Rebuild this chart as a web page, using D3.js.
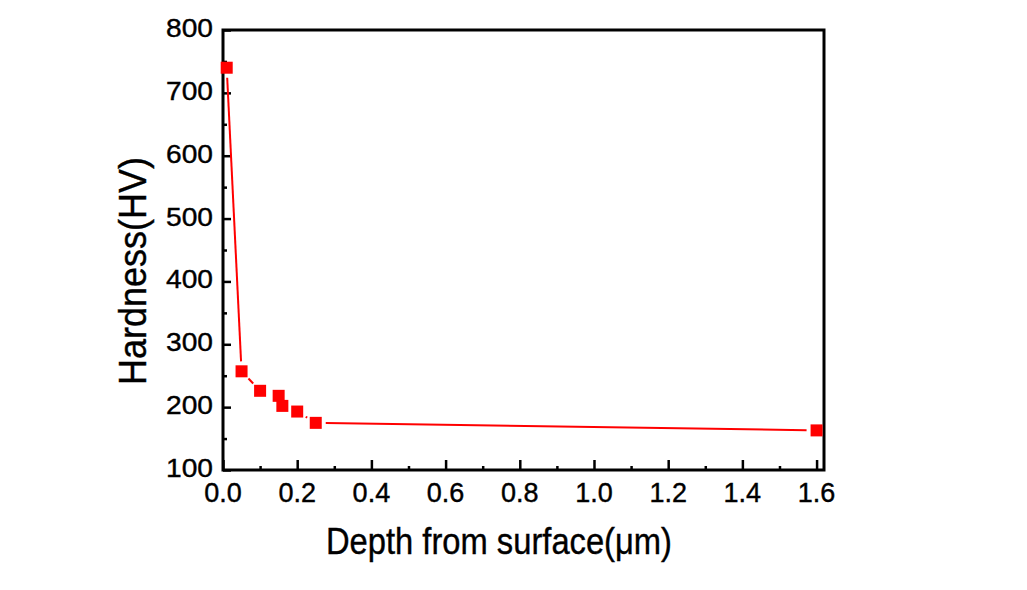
<!DOCTYPE html>
<html>
<head>
<meta charset="utf-8">
<script src="https://cdn.jsdelivr.net/npm/d3@7"></script>
<style>
  html, body { margin: 0; padding: 0; background: #fff; }
  svg text { font-family: "Liberation Sans", Arial, sans-serif; fill: #000; stroke: #000; stroke-width: 0.4px; }
</style>
</head>
<body>
<svg id="chart" width="1027" height="590"></svg>
<script>
// Data
const depth = [0.01, 0.05, 0.10, 0.15, 0.16, 0.20, 0.25, 1.60];
const hardness = [740, 257, 226, 218, 202, 193, 175, 163];
const xTicks = [0.0, 0.2, 0.4, 0.6, 0.8, 1.0, 1.2, 1.4, 1.6];
const yTicks = [100, 200, 300, 400, 500, 600, 700, 800];
const xTitle = "Depth from surface(\u03BCm)";
const yTitle = "Hardness(HV)";

const svg = d3.select("#chart");
const L = 223, R = 824, T = 30, B = 470;
const x = d3.scaleLinear().domain([0, 1.62]).range([L, R]);
const y = d3.scaleLinear().domain([100, 800]).range([B, T]);

// Axes (ticks inward)
const xAxis = d3.axisBottom(x).tickValues(d3.range(0, 1.61, 0.1)).tickSize(-9)
  .tickFormat(d => "");
const gx = svg.append("g").attr("transform", `translate(0,${B})`).call(xAxis);
gx.select(".domain").remove();
gx.selectAll(".tick line").attr("stroke", "#000").attr("stroke-width", 2.5)
  .attr("y2", (d, i) => i % 2 === 0 ? -10 : -4);

const yAxis = d3.axisLeft(y).tickValues(d3.range(100, 801, 50)).tickSize(-8).tickFormat(d => "");
const gy = svg.append("g").attr("transform", `translate(${L},0)`).call(yAxis);
gy.select(".domain").remove();
gy.selectAll(".tick line").attr("stroke", "#000").attr("stroke-width", 2.5)
  .attr("x2", (d, i) => i % 2 === 0 ? 8 : 4);

// Tick labels
svg.append("g").selectAll("text").data(xTicks).join("text")
  .attr("x", d => x(d)).attr("y", 502)
  .attr("text-anchor", "middle").attr("font-size", 27)
  .text(d => d.toFixed(1));
svg.append("g").selectAll("text").data(yTicks).join("text")
  .attr("x", 213).attr("y", d => y(d) + 7)
  .attr("text-anchor", "end").attr("font-size", 26)
  .attr("textLength", 47).attr("lengthAdjust", "spacingAndGlyphs")
  .text(d => d);

// Frame
svg.append("rect").attr("x", L).attr("y", T).attr("width", R - L).attr("height", B - T)
  .attr("fill", "none").attr("stroke", "#000").attr("stroke-width", 3);

// Line with gaps near markers
const pts = depth.map((d, i) => [x(d), y(hardness[i])]);
const gap = 10;
const segs = [];
for (let i = 0; i < pts.length - 1; i++) {
  const [x1, y1] = pts[i], [x2, y2] = pts[i + 1];
  const len = Math.hypot(x2 - x1, y2 - y1);
  if (len > 2 * gap + 1) {
    const ux = (x2 - x1) / len, uy = (y2 - y1) / len;
    segs.push([x1 + ux * gap, y1 + uy * gap, x2 - ux * gap, y2 - uy * gap]);
  }
}
svg.append("g").selectAll("line").data(segs).join("line")
  .attr("x1", d => d[0]).attr("y1", d => d[1]).attr("x2", d => d[2]).attr("y2", d => d[3])
  .attr("stroke", "#ff0000").attr("stroke-width", 2);

// Markers
const ms = 12;
svg.append("g").selectAll("rect").data(pts).join("rect")
  .attr("x", d => d[0] - ms / 2).attr("y", d => d[1] - ms / 2)
  .attr("width", ms).attr("height", ms).attr("fill", "#ff0000");

// Titles
svg.append("text").attr("x", 499).attr("y", 554).attr("text-anchor", "middle")
  .attr("font-size", 37).attr("textLength", 346).attr("lengthAdjust", "spacingAndGlyphs")
  .text(xTitle);
svg.append("text").attr("transform", "translate(146,271) rotate(-90)")
  .attr("text-anchor", "middle").attr("font-size", 39)
  .attr("textLength", 228).attr("lengthAdjust", "spacingAndGlyphs")
  .text(yTitle);
</script>
</body>
</html>
